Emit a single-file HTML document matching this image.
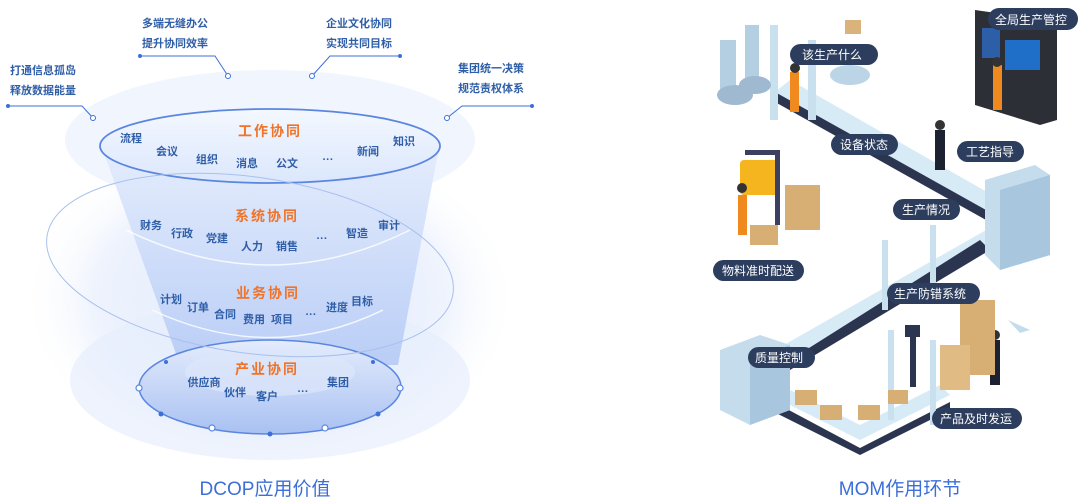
<!DOCTYPE html>
<html><head><meta charset="utf-8"><style>
html,body{margin:0;padding:0;background:#fff;}
svg{display:block}
text{font-family:"Liberation Sans","Noto Sans CJK SC",sans-serif;font-weight:bold}
.it{fill:#2f5ea8;font-size:11px}
.cat{fill:#f07328;font-size:14px;letter-spacing:2px}
.cap{fill:#2f5ea8;font-size:11px}
.pill{fill:#2c3d5e}
.pt{fill:#fff;font-size:12px;font-weight:normal}
</style></head><body>
<svg width="1080" height="503" viewBox="0 0 1080 503">
<defs>
<radialGradient id="glow" cx="50%" cy="50%" r="50%">
<stop offset="0" stop-color="#dfe8fb"/><stop offset="0.7" stop-color="#eef3fd"/><stop offset="1" stop-color="#ffffff" stop-opacity="0"/>
</radialGradient>
<linearGradient id="fun" x1="0" y1="0" x2="0" y2="1">
<stop offset="0" stop-color="#e6eefd"/><stop offset="1" stop-color="#b9cdf6"/>
</linearGradient>
<linearGradient id="top" x1="0" y1="0" x2="0" y2="1">
<stop offset="0" stop-color="#f4f8ff"/><stop offset="1" stop-color="#dbe7fc"/>
</linearGradient>
<linearGradient id="bot" x1="0" y1="0" x2="0" y2="1">
<stop offset="0" stop-color="#e4ecfc"/><stop offset="1" stop-color="#a9c1f2"/>
</linearGradient>
</defs>
<!-- LEFT -->
<ellipse cx="270" cy="300" rx="250" ry="170" fill="url(#glow)"/>
<ellipse cx="270" cy="140" rx="205" ry="70" fill="#eef3fd" opacity="0.8"/>
<ellipse cx="270" cy="380" rx="200" ry="80" fill="#e7eefc" opacity="0.7"/>
<path d="M100,142 L180,365 L398,365 L440,142 Z" fill="url(#fun)"/>
<path d="M126,230 Q270,300 410,230" fill="none" stroke="#fff" stroke-width="1.5" opacity="0.8"/>
<path d="M152,310 Q270,365 383,310" fill="none" stroke="#fff" stroke-width="1.5" opacity="0.8"/>
<ellipse cx="270" cy="387" rx="131" ry="47" fill="url(#bot)" stroke="#5b86e0" stroke-width="1.5"/>
<ellipse cx="270" cy="372" rx="85" ry="24" fill="#dde7fb" opacity="0.7"/>
<g fill="#fff" stroke="#5b86e0" stroke-width="1.2">
<circle cx="139" cy="388" r="3"/><circle cx="400" cy="388" r="3"/><circle cx="212" cy="428" r="3"/><circle cx="325" cy="428" r="3"/></g>
<g fill="#3c6fd8"><circle cx="161" cy="414" r="2.5"/><circle cx="378" cy="414" r="2.5"/><circle cx="270" cy="434" r="2.5"/><circle cx="166" cy="362" r="2"/><circle cx="373" cy="362" r="2"/></g>
<ellipse cx="270" cy="146" rx="170" ry="37" fill="url(#top)" stroke="#5b86e0" stroke-width="1.8"/>
<ellipse cx="250" cy="265" rx="205" ry="88" fill="none" stroke="#a9c0ee" stroke-width="1" transform="rotate(8 250 265)"/>
<!-- callouts -->
<g stroke="#3c6fd8" fill="none" stroke-width="1">
<polyline points="8,106 82,106 93,118"/><polyline points="140,56 215,56 228,76"/><polyline points="400,56 330,56 312,76"/><polyline points="532,106 462,106 447,118"/>
</g>
<g fill="#3c6fd8"><circle cx="8" cy="106" r="2"/><circle cx="140" cy="56" r="2"/><circle cx="400" cy="56" r="2"/><circle cx="532" cy="106" r="2"/></g>
<g fill="#fff" stroke="#3c6fd8"><circle cx="93" cy="118" r="2.5"/><circle cx="228" cy="76" r="2.5"/><circle cx="312" cy="76" r="2.5"/><circle cx="447" cy="118" r="2.5"/></g>
<text class="cap" x="10" y="74">打通信息孤岛</text><text class="cap" x="10" y="94">释放数据能量</text>
<text class="cap" x="142" y="27">多端无缝办公</text><text class="cap" x="142" y="47">提升协同效率</text>
<text class="cap" x="326" y="27">企业文化协同</text><text class="cap" x="326" y="47">实现共同目标</text>
<text class="cap" x="458" y="72">集团统一决策</text><text class="cap" x="458" y="92">规范责权体系</text>
<g text-anchor="middle">
<text class="cat" x="270" y="136">工作协同</text>
<text class="it" x="131" y="142">流程</text><text class="it" x="167" y="155">会议</text><text class="it" x="207" y="163">组织</text><text class="it" x="247" y="167">消息</text><text class="it" x="287" y="167">公文</text><text class="it" x="328" y="163">···</text><text class="it" x="368" y="155">新闻</text><text class="it" x="404" y="145">知识</text>
<text class="cat" x="267" y="221">系统协同</text>
<text class="it" x="151" y="229">财务</text><text class="it" x="182" y="237">行政</text><text class="it" x="217" y="242">党建</text><text class="it" x="252" y="250">人力</text><text class="it" x="287" y="250">销售</text><text class="it" x="322" y="242">···</text><text class="it" x="357" y="237">智造</text><text class="it" x="389" y="229">审计</text>
<text class="cat" x="268" y="298">业务协同</text>
<text class="it" x="171" y="303">计划</text><text class="it" x="198" y="311">订单</text><text class="it" x="225" y="318">合同</text><text class="it" x="254" y="323">费用</text><text class="it" x="282" y="323">项目</text><text class="it" x="311" y="318">···</text><text class="it" x="337" y="311">进度</text><text class="it" x="362" y="305">目标</text>
<text class="cat" x="267" y="374">产业协同</text>
<text class="it" x="204" y="386">供应商</text><text class="it" x="235" y="396">伙伴</text><text class="it" x="267" y="400">客户</text><text class="it" x="303" y="395">···</text><text class="it" x="338" y="386">集团</text>
<text x="265" y="495" style="fill:#3c6fd8;font-size:19px;font-weight:normal">DCOP应用价值</text>
<text x="900" y="495" style="fill:#3c6fd8;font-size:19px;font-weight:normal">MOM作用环节</text>
</g>
<!-- RIGHT illustration -->
<!-- belt 1 -->
<polygon points="790,80 1010,205 995,215 775,92" fill="#d7ebf6"/>
<polygon points="775,92 995,215 995,225 775,102" fill="#2b3550"/>
<!-- belt 2 -->
<polygon points="995,225 1000,235 790,360 775,350" fill="#d7ebf6"/>
<polygon points="775,350 790,360 790,368 775,358" fill="#2b3550"/>
<polygon points="980,240 990,250 790,370 790,360" fill="#2b3550"/>
<!-- belt 3 -->
<polygon points="760,390 860,440 950,395 940,385 860,425 770,380" fill="#d7ebf6"/>
<polygon points="770,400 860,448 950,402 950,410 860,455 770,410" fill="#2b3550"/>
<!-- machines -->
<polygon points="985,180 1035,165 1050,175 1050,255 1000,270 985,255" fill="#c5dcec"/>
<polygon points="1000,190 1050,175 1050,255 1000,270" fill="#a8c7de"/>
<polygon points="720,350 760,335 790,345 790,410 750,425 720,410" fill="#c5dcec"/>
<polygon points="750,360 790,345 790,410 750,425" fill="#a8c7de"/>
<!-- frames -->
<rect x="770" y="25" width="8" height="95" fill="#c9e0ee"/><rect x="808" y="40" width="8" height="80" fill="#c9e0ee"/>
<rect x="882" y="240" width="6" height="70" fill="#c9e0ee"/><rect x="930" y="225" width="6" height="70" fill="#c9e0ee"/>
<rect x="888" y="330" width="6" height="90" fill="#c9e0ee"/><rect x="930" y="340" width="6" height="85" fill="#c9e0ee"/>
<!-- robots -->
<rect x="720" y="40" width="16" height="50" fill="#b4cfe2"/><ellipse cx="735" cy="95" rx="18" ry="10" fill="#9fbad0"/>
<rect x="745" y="25" width="14" height="55" fill="#b4cfe2"/><ellipse cx="755" cy="85" rx="16" ry="9" fill="#9fbad0"/>
<ellipse cx="850" cy="75" rx="20" ry="10" fill="#bcd5e6"/><rect x="845" y="20" width="16" height="14" fill="#d9b27c"/>
<!-- control panel -->
<polygon points="975,10 1045,20 1057,30 1057,120 1040,125 975,105" fill="#2d2f36"/>
<rect x="982" y="28" width="18" height="30" fill="#2c5fa8"/><rect x="1005" y="40" width="35" height="30" fill="#1f6fc9"/>
<!-- workers -->
<rect x="790" y="72" width="9" height="40" fill="#f08a1e"/><circle cx="795" cy="68" r="5" fill="#333"/>
<rect x="993" y="65" width="9" height="45" fill="#f08a1e"/><circle cx="997" cy="62" r="5" fill="#333"/>
<rect x="935" y="130" width="10" height="40" fill="#1d2230"/><circle cx="940" cy="125" r="5" fill="#333"/>
<rect x="990" y="340" width="10" height="45" fill="#1d2230"/><circle cx="995" cy="335" r="5" fill="#333"/>
<!-- forklift -->
<rect x="740" y="160" width="40" height="35" fill="#f4b51f" rx="4"/>
<rect x="745" y="150" width="35" height="5" fill="#3b3f60"/><rect x="775" y="150" width="5" height="75" fill="#3b3f60"/>
<rect x="785" y="185" width="35" height="45" fill="#d7ae74"/>
<rect x="750" y="225" width="28" height="20" fill="#d7ae74"/>
<rect x="738" y="195" width="9" height="40" fill="#f08a1e"/><circle cx="742" cy="188" r="5" fill="#333"/>
<!-- boxes -->
<rect x="960" y="300" width="35" height="75" fill="#d7ae74"/><rect x="940" y="345" width="30" height="45" fill="#e0bb84"/>
<rect x="795" y="390" width="22" height="15" fill="#d7ae74"/><rect x="820" y="405" width="22" height="15" fill="#d7ae74"/><rect x="858" y="405" width="22" height="15" fill="#d7ae74"/><rect x="888" y="390" width="20" height="14" fill="#d7ae74"/>
<rect x="905" y="325" width="15" height="12" fill="#2b3550"/><rect x="910" y="337" width="6" height="50" fill="#2b3550"/>
<polygon points="1008,320 1030,330 1020,333" fill="#c5dcec"/>
<!-- pills -->
<rect class="pill" x="988" y="8" width="90" height="22" rx="11"/><text class="pt" x="995" y="24">全局生产管控</text>
<rect class="pill" x="790" y="44" width="88" height="21" rx="10.5"/><text class="pt" x="802" y="59">该生产什么</text>
<rect class="pill" x="831" y="134" width="67" height="21" rx="10.5"/><text class="pt" x="840" y="149">设备状态</text>
<rect class="pill" x="957" y="141" width="67" height="21" rx="10.5"/><text class="pt" x="966" y="156">工艺指导</text>
<rect class="pill" x="893" y="199" width="67" height="21" rx="10.5"/><text class="pt" x="902" y="214">生产情况</text>
<rect class="pill" x="713" y="260" width="91" height="21" rx="10.5"/><text class="pt" x="722" y="275">物料准时配送</text>
<rect class="pill" x="887" y="283" width="93" height="21" rx="10.5"/><text class="pt" x="894" y="298">生产防错系统</text>
<rect class="pill" x="748" y="347" width="67" height="21" rx="10.5"/><text class="pt" x="755" y="362">质量控制</text>
<rect class="pill" x="932" y="408" width="90" height="21" rx="10.5"/><text class="pt" x="940" y="423">产品及时发运</text>
</svg>
</body></html>
